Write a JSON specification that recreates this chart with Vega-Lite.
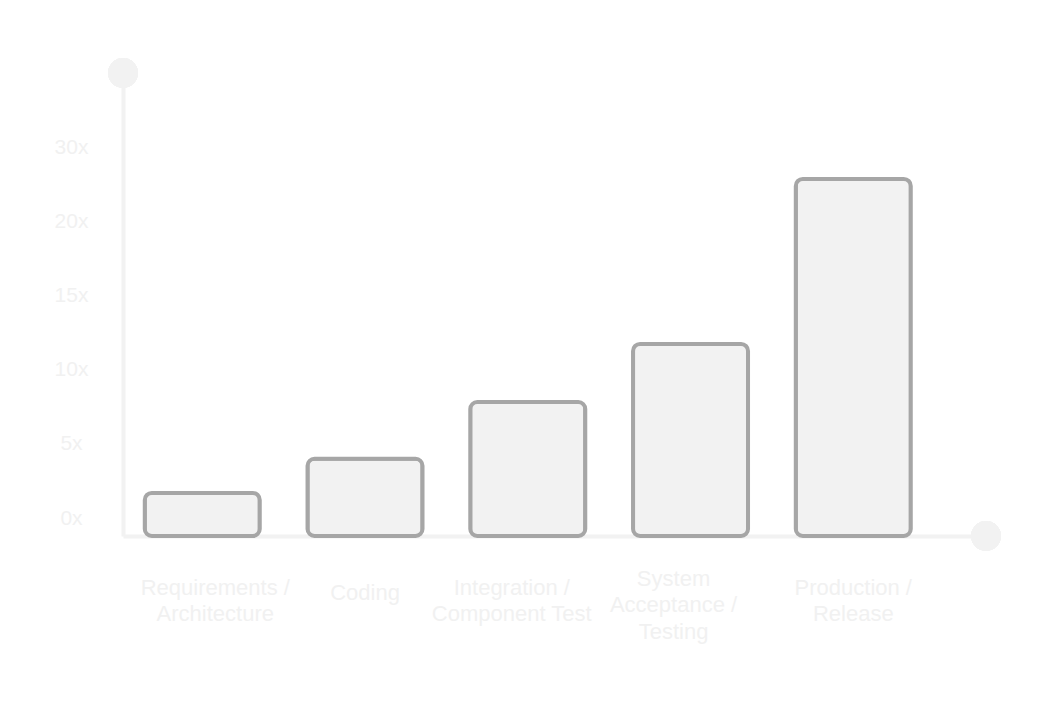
{
  "$schema": "https://vega.github.io/schema/vega-lite/v6.json",
  "width": 863,
  "height": 463,
  "autosize": {"type": "none"},
  "padding": {"left": 123, "top": 73, "right": 76, "bottom": 170},
  "background": "#ffffff",
  "config": {
    "view": {"stroke": null},
    "font": "Liberation Sans"
  },
  "data": {
    "values": [
      {"stage": "Requirements /|Architecture", "cost": 2.9},
      {"stage": "Coding", "cost": 5.2},
      {"stage": "Integration /|Component Test", "cost": 9.03},
      {"stage": "System|Acceptance /|Testing", "cost": 12.94},
      {"stage": "Production /|Release", "cost": 24.06}
    ]
  },
  "layer": [
    {
      "mark": {
        "type": "bar",
        "fill": "#f2f2f2",
        "stroke": "#a6a6a6",
        "strokeWidth": 4,
        "cornerRadius": 7
      },
      "encoding": {
        "x": {
          "field": "stage",
          "type": "nominal",
          "sort": null,
          "scale": {"paddingInner": 0.2935, "paddingOuter": 0.298, "align": 0.2245},
          "axis": {
            "title": null,
            "domainColor": "#f2f2f2",
            "domainWidth": 4,
            "ticks": false,
            "tickSize": 0,
            "labelAngle": 0,
            "labelColor": "#f1f1f1",
            "labelFont": "Liberation Sans",
            "labelFontSize": 22,
            "labelLineHeight": 26.5,
            "labelBaseline": "middle",
            "labelPadding": {
              "condition": [
                {"test": "datum.value == 'Coding'", "value": 56},
                {"test": "datum.value == 'System|Acceptance /|Testing'", "value": 42}
              ],
              "value": 51
            },
            "labelOffset": {
              "condition": [
                {"test": "datum.value == 'Requirements /|Architecture'", "value": 13},
                {"test": "datum.value == 'Integration /|Component Test'", "value": -16},
                {"test": "datum.value == 'System|Acceptance /|Testing'", "value": -17}
              ],
              "value": 0
            },
            "labelLimit": 300,
            "labelExpr": "split(datum.label, '|')"
          }
        },
        "y": {
          "field": "cost",
          "type": "quantitative",
          "scale": {"domain": [0, 31.2], "nice": false, "zero": true},
          "axis": {
            "title": null,
            "values": [0, 5, 10, 15, 20, 25],
            "labelExpr": "datum.value == 25 ? '30x' : datum.value + 'x'",
            "domainColor": "#f2f2f2",
            "domainWidth": 4,
            "ticks": false,
            "tickSize": 0,
            "grid": false,
            "labelColor": "#f1f1f1",
            "labelFont": "Liberation Sans",
            "labelFontSize": 21,
            "labelAlign": "center",
            "labelBaseline": "middle",
            "labelPadding": 52,
            "labelOffset": -18
          }
        }
      }
    },
    {
      "mark": {"type": "point", "filled": true, "size": 900, "color": "#f2f2f2", "opacity": 1, "strokeWidth": 0},
      "encoding": {
        "x": {"datum": 0, "type": "quantitative", "scale": {"domain": [0, 1]}, "axis": null},
        "y": {"datum": 31.2, "type": "quantitative"}
      }
    },
    {
      "mark": {"type": "point", "filled": true, "size": 900, "color": "#f2f2f2", "opacity": 1, "strokeWidth": 0},
      "encoding": {
        "x": {"datum": 1, "type": "quantitative", "scale": {"domain": [0, 1]}, "axis": null},
        "y": {"datum": 0, "type": "quantitative"}
      }
    }
  ],
  "resolve": {"scale": {"x": "independent"}, "axis": {"x": "independent"}}
}
